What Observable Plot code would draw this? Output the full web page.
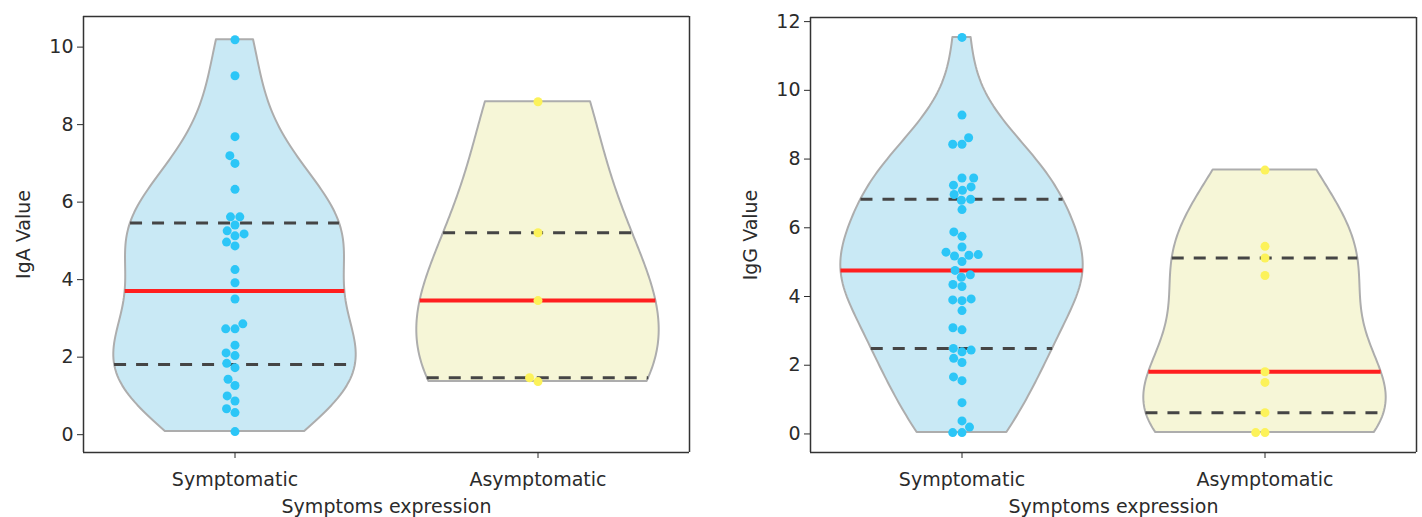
<!DOCTYPE html>
<html>
<head>
<meta charset="utf-8">
<script src="https://cdn.jsdelivr.net/npm/d3@7"></script>
<script src="https://cdn.jsdelivr.net/npm/@observablehq/plot@0.6"></script>
<style>
  html, body { margin: 0; padding: 0; background: #fff; overflow: hidden; }
  #wrap { display: flex; flex-direction: row; width: 1422px; height: 517px; }
</style>
</head>
<body>
<div id="wrap"></div>
<script>
// ---------- data ----------
const categories = ["Symptomatic", "Asymptomatic"];
const xLabel = "Symptoms expression";

const igaLabel = "IgA Value";
const igaTicks = [0, 2, 4, 6, 8, 10];
const igaSymptomatic = [10.19, 9.26, 7.69, 7.2, 7.0, 6.33, 5.62, 5.62, 5.41, 5.26, 5.18, 5.13, 4.97, 4.87, 4.26, 3.92, 3.5, 2.86, 2.73, 2.73, 2.31, 2.11, 2.04, 1.84, 1.73, 1.43, 1.27, 1.0, 0.87, 0.67, 0.57, 0.08];
const igaAsymptomatic = [8.59, 5.21, 3.46, 1.47, 1.37];

const iggLabel = "IgG Value";
const iggTicks = [0, 2, 4, 6, 8, 10, 12];
const iggSymptomatic = [11.54, 9.28, 8.62, 8.43, 8.43, 7.45, 7.45, 7.24, 7.19, 7.09, 6.97, 6.83, 6.8, 6.53, 5.88, 5.75, 5.44, 5.29, 5.22, 5.2, 5.18, 5.02, 4.76, 4.63, 4.56, 4.35, 4.29, 3.93, 3.9, 3.88, 3.59, 3.09, 3.03, 2.49, 2.44, 2.39, 2.2, 2.08, 1.66, 1.55, 0.91, 0.38, 0.2, 0.04, 0.04];
const iggAsymptomatic = [7.68, 5.46, 5.12, 4.61, 1.81, 1.5, 0.62, 0.04, 0.04];

const violinFill = ["#c9e9f5", "#f6f6d7"];
const pointFill = ["#2cc6f7", "#fcf25a"];

// ---------- helpers ----------
function kdeAt(vals, bw, v) {
  return d3.mean(vals, x => Math.exp(-0.5 * ((v - x) / bw) ** 2));
}

function buildPanel({series, yDomain, yTicks, yLabel, width, marginLeft, marginRight, marginTop, marginBottom}) {
  const quartiles = [], medians = [];
  const marks = [];
  categories.forEach((cat, i) => {
    const vals = series[i].slice().sort(d3.ascending);
    const bw = d3.deviation(vals) * Math.pow(vals.length, -1 / 5);
    const [lo, hi] = d3.extent(vals);
    const n = 120;
    const grid = d3.range(n + 1).map(k => lo + (hi - lo) * k / n);
    const dens = grid.map(v => ({v, d: kdeAt(vals, bw, v)}));
    const maxd = d3.max(dens, d => d.d);
    const hw = v => 0.4 * kdeAt(vals, bw, v) / maxd;
    const vData = dens.map(p => ({cat, v: p.v, hw: 0.4 * p.d / maxd}));
    marks.push(Plot.areaX(vData, {
      fx: "cat", y: "v", x1: d => -d.hw, x2: d => d.hw,
      fill: violinFill[i], stroke: "#adadad", strokeWidth: 2, curve: "linear"
    }));
    [0.25, 0.75].forEach(q => {
      const v = d3.quantile(vals, q);
      quartiles.push({cat, v, hw: hw(v)});
    });
    const m = d3.median(vals);
    medians.push({cat, v: m, hw: hw(m)});
  });
  marks.push(Plot.ruleY(quartiles, {
    fx: "cat", y: "v", x1: d => -d.hw, x2: d => d.hw,
    stroke: "#454545", strokeWidth: 3, strokeDasharray: "12,10"
  }));
  marks.push(Plot.ruleY(medians, {
    fx: "cat", y: "v", x1: d => -d.hw, x2: d => d.hw,
    stroke: "#ff1f1f", strokeWidth: 4
  }));
  categories.forEach((cat, i) => {
    const pts = series[i].slice().sort(d3.ascending).map(v => ({cat, v}));
    marks.push(Plot.dot(pts, Plot.dodgeX({
      anchor: "middle", padding: 0.3,
      fx: "cat", y: "v", r: 4.5, fill: pointFill[i], stroke: "none"
    })));
  });
  // frame
  marks.push(Plot.ruleY(yDomain, {stroke: "#333", strokeWidth: 1.5}));
  marks.push(Plot.ruleX([{cat: categories[0], x: -0.5}, {cat: categories[1], x: 0.5}],
    {fx: "cat", x: "x", stroke: "#333", strokeWidth: 1.5}));

  return Plot.plot({
    width, height: 517,
    marginLeft, marginRight, marginTop, marginBottom,
    style: {fontFamily: "DejaVu Sans", fontSize: "19px", color: "#2b2b2b", background: "#fff"},
    fx: {domain: categories, padding: 0, label: xLabel, labelAnchor: "center",
         tickSize: 6, tickPadding: 14, labelOffset: 60},
    x: {domain: [-0.5, 0.5], axis: null},
    y: {domain: yDomain, ticks: yTicks, tickSize: 6, tickPadding: 4,
        label: yLabel, labelAnchor: "center", labelOffset: 67, labelArrow: "none"},
    marks
  });
}

const wrap = document.getElementById("wrap");
wrap.append(buildPanel({
  series: [igaSymptomatic, igaAsymptomatic],
  yDomain: [-0.46, 10.79], yTicks: igaTicks, yLabel: igaLabel,
  width: 700, marginLeft: 83, marginRight: 11, marginTop: 16, marginBottom: 65
}));
wrap.append(buildPanel({
  series: [iggSymptomatic, iggAsymptomatic],
  yDomain: [-0.54, 12.12], yTicks: iggTicks, yLabel: iggLabel,
  width: 722, marginLeft: 110, marginRight: 6, marginTop: 17, marginBottom: 65
}));
</script>
</body>
</html>
